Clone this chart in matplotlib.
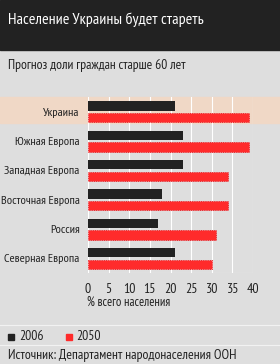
import matplotlib
matplotlib.use("Agg")
import numpy as np
from matplotlib import pyplot as plt
from matplotlib.patches import Rectangle
from matplotlib.lines import Line2D

plt.rcParams['font.family'] = ['PT Sans Narrow', 'DejaVu Sans']

regions = ['Украина', 'Южная Европа', 'Западная Европа',
           'Восточная Европа', 'Россия', 'Северная Европа']
share_2006 = [21, 23, 23, 18, 17, 21]
share_2050 = [39, 39, 34, 34, 31, 30]
ticks = [0, 5, 10, 15, 20, 25, 30, 35, 40]

BG = '#dedede'
DARK = '#222222'
RED = '#ff2b2b'

W, H = 280, 364
fig = plt.figure(figsize=(W / 100, H / 100), dpi=100, facecolor=BG)

def fy(py):
    return 1 - py / H

# header
fig.patches.append(Rectangle((0, fy(50)), 1, 50 / H, transform=fig.transFigure,
                             color=DARK, zorder=0))
fig.text(8 / W, fy(20), 'Население Украины будет стареть', color='white',
         fontsize=11.5, va='center', ha='left')
fig.text(8 / W, fy(66), 'Прогноз доли граждан старше 60 лет', color='#222222',
         fontsize=9.7, va='center', ha='left')

# highlighted row for Ukraine
fig.patches.append(Rectangle((0, fy(123)), 1, 26 / H, transform=fig.transFigure,
                             color='#f0d8c6', zorder=0))

ax = fig.add_axes([88 / W, fy(273), 165 / W, (273 - 97) / H], zorder=2)
ax.set_facecolor('none')
y = np.arange(len(regions))
h = 0.32
ax.barh(y - 0.19, share_2006, height=h, color=DARK, zorder=3)
ax.barh(y + 0.2, share_2050, height=h, color=RED, edgecolor='#e0101a',
        linewidth=0.6, linestyle=':', zorder=3)
ax.set_xlim(0, 40)
ax.set_ylim(len(regions) - 0.5, -0.5)
ax.set_xticks(ticks)
ax.set_xticklabels([str(t) for t in ticks], fontsize=10, color='#222222')
ax.set_yticks(y)
ax.set_yticklabels(regions, fontsize=8.8, color='#222222')
ax.tick_params(length=0, pad=6)
ax.tick_params(axis='x', pad=7)
ax.grid(axis='x', color='white', linewidth=0.8, zorder=1)
for s in ax.spines.values():
    s.set_visible(False)
ax.axhline(len(regions) - 0.5, color='white', linewidth=0.8, zorder=1)

fig.text(87 / W, fy(302), '% всего населения', color='#222222',
         fontsize=9, va='center', ha='left')

# legend area
fig.add_artist(Line2D([0, 1], [fy(325), fy(325)], transform=fig.transFigure,
                      color='#f2f2f2', linewidth=0.8))
fig.add_artist(Line2D([0, 1], [fy(345), fy(345)], transform=fig.transFigure,
                      color='#f2f2f2', linewidth=0.8))
fig.patches.append(Rectangle((8 / W, fy(340)), 6 / W, 6 / H, transform=fig.transFigure,
                             color=DARK))
fig.text(19 / W, fy(336.5), '2006', fontsize=9.8, color='#222222', va='center')
fig.patches.append(Rectangle((66 / W, fy(340)), 6 / W, 6 / H, transform=fig.transFigure,
                             color=RED))
fig.text(76 / W, fy(336.5), '2050', fontsize=9.8, color='#222222', va='center')
fig.text(8 / W, fy(355), 'Источник: Департамент народонаселения ООН', fontsize=9.9,
         color='#222222', va='center')

fig.savefig('out.png', dpi=100, facecolor=BG)
